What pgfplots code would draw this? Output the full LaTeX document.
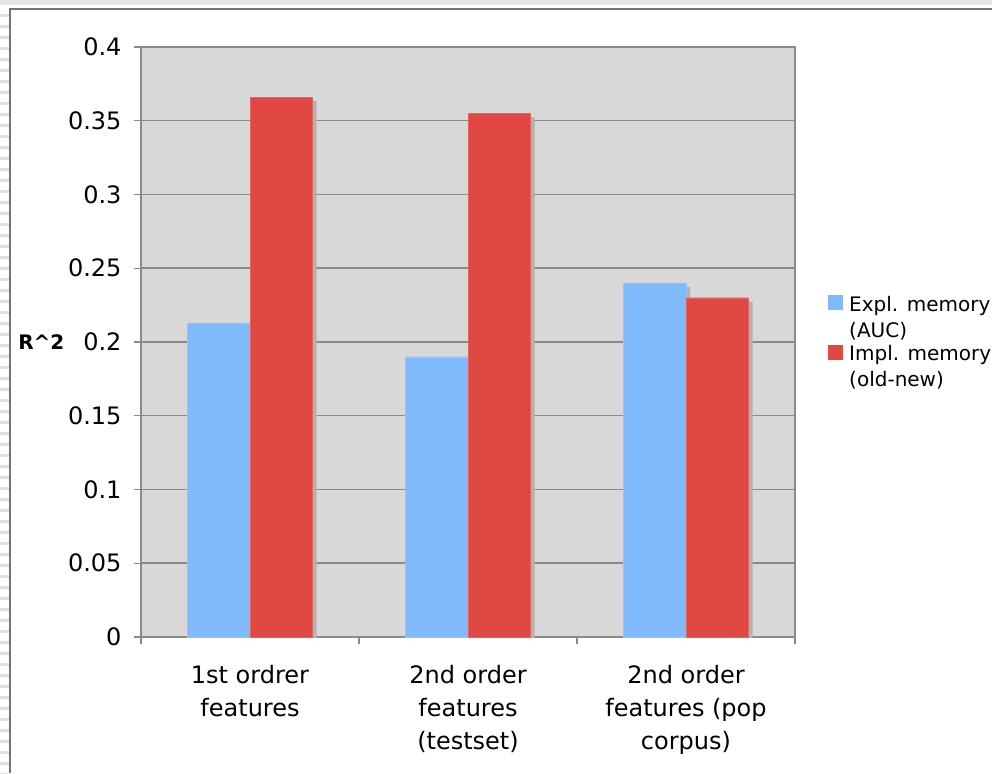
\documentclass[border=0pt]{standalone}
\usepackage{fontspec}
\setmainfont{DejaVu Sans}
\usepackage{pgfplots}
\pgfplotsset{compat=1.18}
\usetikzlibrary{shadows}

\definecolor{explblue}{HTML}{80BAFC}
\definecolor{implred}{HTML}{E04842}
\definecolor{plotbg}{HTML}{D8D8D8}
\definecolor{gridgray}{HTML}{8A8A8A}
\definecolor{shadowgray}{HTML}{B2B2B2}

\begin{document}
\begin{tikzpicture}
\useasboundingbox (0pt,0pt) rectangle (992pt,773pt);
\fill[white] (0pt,0pt) rectangle (992pt,773pt);
% window chrome around the chart
\fill[black!10] (0pt,768pt) rectangle (992pt,773pt);
\foreach \k in {0,...,69} {
  \fill[black!12] (0pt,{759pt-11pt*\k}) rectangle (9pt,{756pt-11pt*\k});
}
\draw[black!55, line width=1.2pt] (10pt,0pt) -- (10pt,764pt) -- (992pt,764pt);

\begin{axis}[
  at={(141pt,136pt)}, anchor=south west,
  width=654pt, height=590pt, scale only axis,
  xmin=-0.5, xmax=2.5, ymin=0, ymax=0.4,
  axis background/.style={fill=plotbg},
  ybar, bar width=62.5pt,
  ytick={0,0.05,0.1,0.15,0.2,0.25,0.3,0.35,0.4},
  yticklabels={0,0.05,0.1,0.15,0.2,0.25,0.3,0.35,0.4},
  ymajorgrids,
  grid style={gridgray, line width=1.5pt},
  axis line style={gridgray, line width=1.5pt},
  tick style={gridgray, line width=1.2pt},
  tick align=outside, major tick length=7pt,
  xtick pos=bottom, ytick pos=left,
  xtick={-0.5,0.5,1.5,2.5}, xticklabels={},
  extra x ticks={0,1,2},
  extra x tick labels={{1st ordrer\\features},{2nd order\\features\\(testset)},{2nd order\\features (pop\\corpus)}},
  extra x tick style={major tick length=0pt},
  xticklabel style={align=center, font=\fontsize{24}{33}\selectfont, yshift=-25pt},
  yticklabel style={font=\fontsize{24}{30}\selectfont, xshift=-9pt},
  /pgf/number format/assume math mode=true,
  ylabel={\textbf{R\textasciicircum 2}},
  every axis y label/.style={at={(axis description cs:-0.193,0.5)}, anchor=west,
    font=\fontsize{20}{24}\selectfont},
  legend style={draw=none, fill=none, at={(axis description cs:1.0505,0.582)},
    anchor=north west, inner sep=0pt, font=\fontsize{20}{26}\selectfont,
    row sep=3pt, column sep=4pt, cells={anchor=west, align=left}},
  legend image code/.code={\fill[#1, draw=none] (0pt,7pt) rectangle (15pt,22pt);},
  legend cell align=left,
  barshadow/.style={drop shadow={shadow xshift=4pt, shadow yshift=-4pt,
    fill=shadowgray, draw=none, opacity=1}},
]
\addplot[forget plot, fill=explblue, draw=explblue!85!white, bar shift=-31.25pt, barshadow]
  coordinates {(0,0.213) (1,0.190) (2,0.240)};
\addplot[forget plot, fill=implred, draw=implred!85!white, bar shift=31.25pt, barshadow]
  coordinates {(0,0.366) (1,0.355) (2,0.230)};

\addlegendimage{fill=explblue, draw=none}
\addlegendentry{Expl. memory\\(AUC)}
\addlegendimage{fill=implred, draw=none}
\addlegendentry{Impl. memory\\(old-new)}
\end{axis}
\end{tikzpicture}
\end{document}
